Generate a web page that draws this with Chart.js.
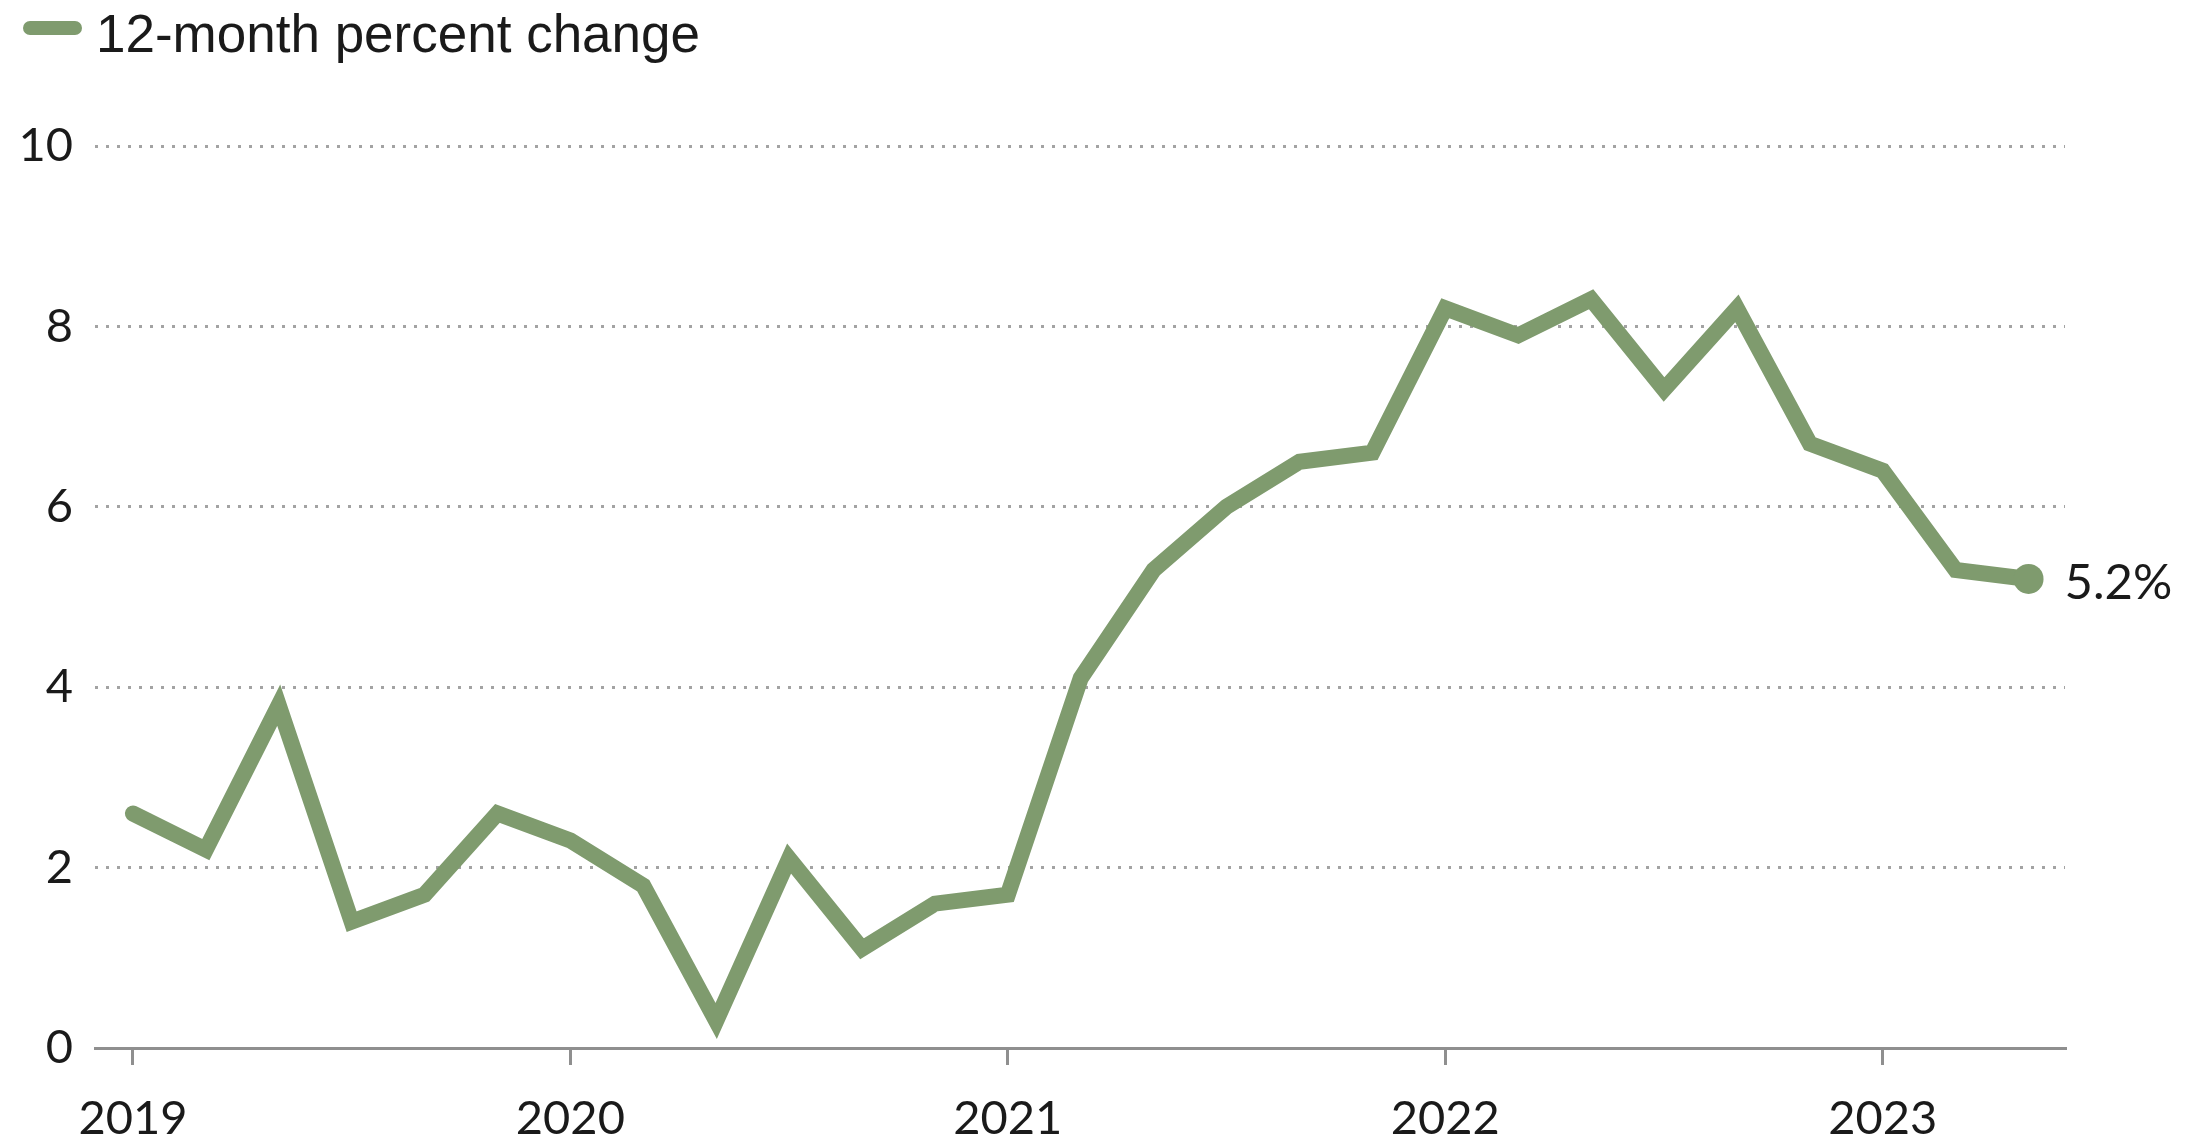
<!DOCTYPE html>
<html>
<head>
<meta charset="utf-8">
<script src="https://cdn.jsdelivr.net/npm/chart.js@4/dist/chart.umd.min.js"></script>
<style>
  html, body { margin: 0; padding: 0; background: #fff; }
  #wrap { position: relative; width: 2197px; height: 1143px; }
  #legend {
    position: absolute; left: 23px; top: 3px; height: 60px;
    font-family: "Liberation Sans", Arial, sans-serif; font-size: 53px; color: #1a1a1a;
    display: flex; align-items: center;
  }
  #legend .swatch {
    display: inline-block; width: 59px; height: 14px; border-radius: 7px;
    background: #7f9b6e; margin-right: 14px; margin-top: -10px;
  }
</style>
</head>
<body>
<div id="wrap">
  <div id="legend"><span class="swatch"></span><span>12-month percent change</span></div>
  <canvas id="chart" width="2197" height="1143"></canvas>
</div>
<script>
// bimonthly readings, Jan 2019 - May 2023
const periods = [
  "2019-01", "2019-03", "2019-05", "2019-07", "2019-09", "2019-11",
  "2020-01", "2020-03", "2020-05", "2020-07", "2020-09", "2020-11",
  "2021-01", "2021-03", "2021-05", "2021-07", "2021-09", "2021-11",
  "2022-01", "2022-03", "2022-05", "2022-07", "2022-09", "2022-11",
  "2023-01", "2023-03", "2023-05"
];
const pctChange = [
  2.6, 2.2, 3.8, 1.4, 1.7, 2.6,
  2.3, 1.8, 0.3, 2.1, 1.1, 1.6,
  1.7, 4.1, 5.3, 6.0, 6.5, 6.6,
  8.2, 7.9, 8.3, 7.3, 8.2, 6.7,
  6.4, 5.3, 5.2
];
const yearLabels = ["2019", "2020", "2021", "2022", "2023"];
const yTicks = [0, 2, 4, 6, 8, 10];

const GREEN = "#7f9b6e";
const GRAY = "#8f8f8f";

// months since Jan 2019
function monthIndex(p) {
  const [y, m] = p.split("-").map(Number);
  return (y - 2019) * 12 + (m - 1);
}
const points = periods.map((p, i) => ({ x: monthIndex(p), y: pctChange[i] }));
const last = points.length - 1;

const endLabel = {
  id: "endLabel",
  afterDatasetsDraw(chart) {
    const pt = chart.getDatasetMeta(0).data[last];
    const ctx = chart.ctx;
    ctx.save();
    ctx.font = "49px Lato, sans-serif";
    ctx.fillStyle = "#1a1a1a";
    ctx.textAlign = "left";
    ctx.textBaseline = "middle";
    ctx.fillText(pctChange[last].toFixed(1) + "%", pt.x + 36, pt.y + 4);
    ctx.restore();
  }
};

new Chart(document.getElementById("chart"), {
  type: "line",
  data: {
    datasets: [{
      data: points,
      borderColor: GREEN,
      borderWidth: 16,
      borderJoinStyle: "miter",
      borderCapStyle: "round",
      tension: 0,
      pointRadius: ctx => ctx.dataIndex === last ? 15 : 0,
      pointBackgroundColor: GREEN,
      pointBorderWidth: 0,
      pointHoverRadius: 0
    }]
  },
  options: {
    responsive: false,
    animation: false,
    layout: { padding: { left: 0, right: 132, top: 146, bottom: 0 } },
    plugins: { legend: { display: false }, tooltip: { enabled: false } },
    scales: {
      x: {
        type: "linear",
        min: -1.04,
        max: 53,
        afterBuildTicks: scale => { scale.ticks = yearLabels.map((_, i) => ({ value: i * 12 })); },
        afterFit: scale => { scale.height = 95; },
        ticks: {
          callback: (v, i) => yearLabels[i],
          font: { family: "Lato", size: 47 },
          color: "#1a1a1a",
          padding: 26,
          maxRotation: 0,
          autoSkip: false
        },
        grid: { drawOnChartArea: false, drawTicks: true, tickLength: 17, color: GRAY, lineWidth: 3 },
        border: { display: true, color: GRAY, width: 3 }
      },
      y: {
        min: 0,
        max: 10,
        afterBuildTicks: scale => { scale.ticks = yTicks.map(v => ({ value: v })); },
        afterFit: scale => { scale.width = 95; },
        ticks: {
          font: { family: "Lato", size: 47 },
          color: "#1a1a1a",
          padding: 22
        },
        grid: {
          drawTicks: false,
          color: ctx => ctx.tick && ctx.tick.value === 0 ? "rgba(0,0,0,0)" : "#a3a3a3",
          lineWidth: 3
        },
        border: { display: false, dash: [3, 8] }
      }
    }
  },
  plugins: [endLabel]
});
</script>
</body>
</html>
